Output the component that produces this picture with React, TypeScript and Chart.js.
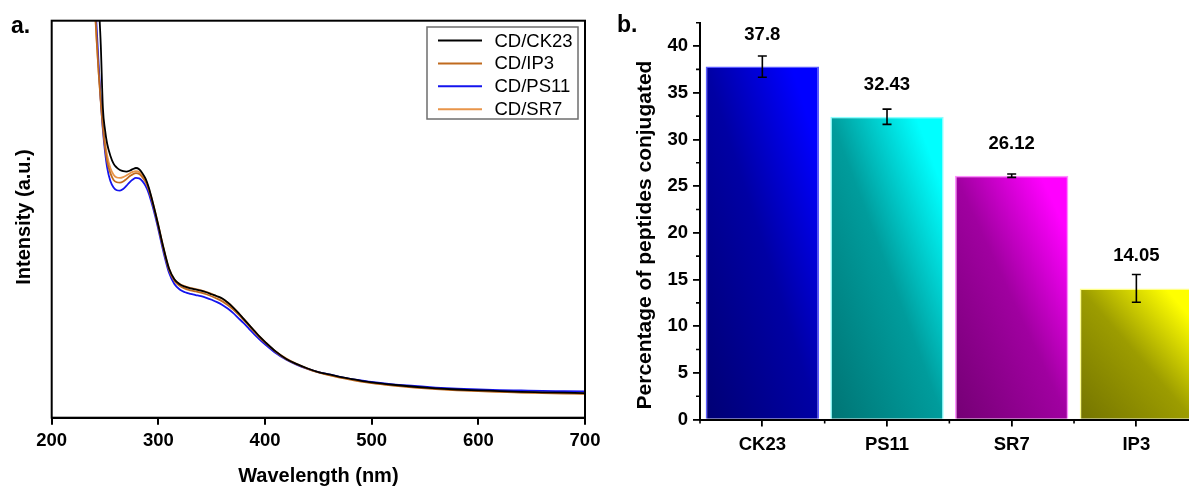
import React, { useEffect, useRef } from 'react';
import { Chart, registerables } from 'chart.js';

Chart.register(...registerables);

const FONT = "'Liberation Sans', Arial, Helvetica, sans-serif";

// ---------- Panel a: absorption spectra ----------
const wavelengths = [236, 238, 240, 242, 244, 246, 248, 250, 252, 255, 258, 261, 264, 267, 270, 273, 276, 279, 282, 285, 288, 291, 294, 297, 300, 305, 310, 315, 320, 325, 330, 335, 340, 345, 350, 355, 360, 365, 370, 375, 380, 385, 390, 395, 400, 410, 420, 430, 440, 450, 460, 470, 480, 490, 500, 520, 540, 560, 580, 600, 620, 640, 660, 680, 700];

const ck23 = [150, 138, 126, 115, 105, 94, 78, 72.5, 69, 66, 64, 63.0, 62.4, 62.1, 62.0, 62.2, 62.6, 62.9, 62.6, 61.6, 60.2, 58.0, 55.0, 51.8, 48.4, 42.6, 37.6, 34.9, 33.6, 33.0, 32.6, 32.3, 32.0, 31.6, 31.1, 30.6, 30.0, 29.0, 27.8, 26.4, 24.9, 23.4, 21.9, 20.4, 19.1, 16.7, 14.8, 13.5, 12.4, 11.5, 10.9, 10.3, 9.8, 9.3, 8.9, 8.3, 7.8, 7.4, 7.1, 6.9, 6.7, 6.5, 6.4, 6.3, 6.2];

const ip3 = [130, 118, 106, 96, 87, 79.5, 73, 68, 64.5, 61.6, 59.9, 59.3, 59.2, 59.5, 60.1, 60.8, 61.3, 61.6, 61.4, 60.6, 59.4, 57.4, 54.6, 51.5, 48.1, 42.2, 37.2, 34.5, 33.2, 32.5, 32.1, 31.8, 31.5, 31.1, 30.6, 30.0, 29.3, 28.4, 27.3, 26.0, 24.6, 23.1, 21.6, 20.2, 18.9, 16.6, 14.7, 13.4, 12.3, 11.4, 10.7, 10.1, 9.6, 9.1, 8.7, 8.1, 7.6, 7.2, 6.9, 6.7, 6.5, 6.3, 6.2, 6.1, 6.0];

const ps11 = [135, 122, 110, 99, 89, 80, 72.5, 67, 63, 59.6, 58.0, 57.3, 57.2, 57.6, 58.4, 59.3, 60.0, 60.4, 60.3, 59.6, 58.4, 56.5, 53.8, 50.8, 47.4, 41.5, 36.5, 33.7, 32.3, 31.6, 31.2, 30.9, 30.6, 30.2, 29.7, 29.1, 28.4, 27.5, 26.4, 25.1, 23.8, 22.4, 21.0, 19.7, 18.5, 16.3, 14.6, 13.3, 12.3, 11.5, 10.9, 10.3, 9.8, 9.4, 9.0, 8.4, 8.0, 7.6, 7.3, 7.1, 6.95, 6.85, 6.75, 6.7, 6.65];

const sr7 = [129, 117, 105.5, 95.5, 87, 80, 74, 69.5, 66, 62.9, 61.2, 60.5, 60.4, 60.6, 61.0, 61.5, 61.9, 62.1, 61.9, 61.0, 59.8, 57.8, 55.0, 51.9, 48.5, 42.6, 37.6, 34.9, 33.7, 33.1, 32.7, 32.4, 32.1, 31.7, 31.2, 30.6, 29.9, 29.0, 27.8, 26.4, 24.9, 23.4, 21.9, 20.4, 19.1, 16.7, 14.9, 13.5, 12.4, 11.5, 10.8, 10.2, 9.7, 9.2, 8.8, 8.2, 7.7, 7.3, 7.0, 6.8, 6.6, 6.4, 6.3, 6.2, 6.1];

const spectraLabels = ['CD/CK23', 'CD/IP3', 'CD/PS11', 'CD/SR7'];
const spectraSeries = [ck23, ip3, ps11, sr7];
const spectraColors = ['#000000', '#c06a1e', '#1414ee', '#e8954a'];
const wavelengthTicks = [200, 300, 400, 500, 600, 700];

// ---------- Panel b: conjugation percentage ----------
const peptides = ['CK23', 'PS11', 'SR7', 'IP3'];
const conjugated = [37.8, 32.43, 26.12, 14.05];
const conjugatedErr = [1.14, 0.82, 0.18, 1.48];
const barDark = ['#000074', '#007474', '#740074', '#747400'];
const barMid = ['#0000a4', '#009c9c', '#a000a0', '#9c9c00'];
const barBright = ['#0000ff', '#00ffff', '#ff00ff', '#ffff00'];
const barEdge = ['#5a5aff', '#8cffff', '#ff8cff', '#ffff8c'];

const framePlugin = {
  id: 'frameA',
  afterDatasetsDraw(chart: any) {
    const { ctx, chartArea: a } = chart;
    ctx.save();
    ctx.strokeStyle = '#000';
    ctx.lineWidth = 2;
    ctx.strokeRect(a.left, a.top, a.right - a.left, a.bottom - a.top);
    ctx.restore();
  },
};

const legendPluginA = {
  id: 'legendA',
  afterDatasetsDraw(chart: any) {
    const { ctx } = chart;
    ctx.save();
    ctx.fillStyle = '#ffffff';
    ctx.fillRect(427, 27, 151, 92);
    ctx.strokeStyle = '#6e6e6e';
    ctx.lineWidth = 1.5;
    ctx.strokeRect(427, 27, 151, 92);
    ctx.font = `18.5px ${FONT}`;
    ctx.textBaseline = 'middle';
    ctx.textAlign = 'left';
    chart.data.datasets.forEach((ds: any, i: number) => {
      const y = 40.5 + i * 22.9;
      ctx.strokeStyle = ds.borderColor;
      ctx.lineWidth = 2;
      ctx.beginPath();
      ctx.moveTo(438, y);
      ctx.lineTo(482, y);
      ctx.stroke();
      ctx.fillStyle = '#000';
      ctx.fillText(ds.label, 494.5, y + 1);
    });
    ctx.restore();
  },
};

const titlesPluginA = {
  id: 'titlesA',
  afterDraw(chart: any) {
    const { ctx } = chart;
    ctx.save();
    ctx.fillStyle = '#000';
    ctx.font = `bold 20px ${FONT}`;
    ctx.textAlign = 'center';
    ctx.textBaseline = 'middle';
    ctx.fillText('Wavelength (nm)', (chart.chartArea.left + chart.chartArea.right) / 2, 476);
    ctx.save();
    ctx.translate(24.5, 217);
    ctx.rotate(-Math.PI / 2);
    ctx.fillText('Intensity (a.u.)', 0, 0);
    ctx.restore();
    ctx.font = `bold 23px ${FONT}`;
    ctx.textAlign = 'left';
    ctx.fillText('a.', 11, 27);
    ctx.restore();
  },
};

function barFill(c: any) {
  const i = c.dataIndex;
  const chart = c.chart;
  const xs = chart.scales && chart.scales.x;
  const ys = chart.scales && chart.scales.y;
  if (i === undefined || !xs || !ys || !chart.chartArea) return barBright[0];
  const step = xs.getPixelForValue(1) - xs.getPixelForValue(0);
  const half = (step * 0.909) / 2;
  const cx = xs.getPixelForValue(i);
  const L = cx - half;
  const R = cx + half;
  const T = ys.getPixelForValue(conjugated[i]);
  const B = ys.getPixelForValue(0);
  const w = R - L;
  const h = B - T;
  if (!isFinite(w) || !isFinite(h) || w <= 0 || h <= 0) return barBright[i];
  const n = Math.hypot(w, h);
  const dx = h / n;
  const dy = -w / n;
  const k = (w * h) / n;
  const mx = (L + R) / 2;
  const my = (T + B) / 2;
  const g = chart.ctx.createLinearGradient(mx - dx * k, my - dy * k, mx + dx * k, my + dy * k);
  g.addColorStop(0, barDark[i]);
  g.addColorStop(0.5, barMid[i]);
  g.addColorStop(0.88, barBright[i]);
  g.addColorStop(1, barBright[i]);
  return g;
}

const errorLabelPlugin = {
  id: 'errorLabels',
  afterDatasetsDraw(chart: any) {
    const { ctx } = chart;
    const ys = chart.scales.y;
    const meta = chart.getDatasetMeta(0);
    ctx.save();
    meta.data.forEach((el: any, i: number) => {
      const v = conjugated[i];
      const e = conjugatedErr[i];
      const top = ys.getPixelForValue(v + e);
      const bot = ys.getPixelForValue(v - e);
      ctx.strokeStyle = '#000';
      ctx.lineWidth = 1.6;
      ctx.beginPath();
      ctx.moveTo(el.x, top);
      ctx.lineTo(el.x, bot);
      ctx.moveTo(el.x - 4.5, top);
      ctx.lineTo(el.x + 4.5, top);
      ctx.moveTo(el.x - 4.5, bot);
      ctx.lineTo(el.x + 4.5, bot);
      ctx.stroke();
      ctx.fillStyle = '#000';
      ctx.font = `bold 18.5px ${FONT}`;
      ctx.textAlign = 'center';
      ctx.textBaseline = 'middle';
      ctx.fillText(String(v), el.x, ys.getPixelForValue(v) - 32);
    });
    ctx.restore();
  },
};

const minorTicksPluginB = {
  id: 'minorTicksB',
  afterDraw(chart: any) {
    const { ctx, chartArea: a } = chart;
    const xs = chart.scales.x;
    const ys = chart.scales.y;
    ctx.save();
    ctx.strokeStyle = '#000';
    ctx.lineWidth = 1.6;
    ctx.beginPath();
    for (let v = 2.5; v <= ys.max + 0.01; v += 5) {
      const y = ys.getPixelForValue(v);
      ctx.moveTo(a.left, y);
      ctx.lineTo(a.left - 4, y);
    }
    const step = xs.getPixelForValue(1) - xs.getPixelForValue(0);
    for (let i = 0; i <= peptides.length; i++) {
      const x = xs.getPixelForValue(0) - step / 2 + i * step;
      ctx.moveTo(x, a.bottom);
      ctx.lineTo(x, a.bottom + 4);
    }
    ctx.stroke();
    ctx.fillStyle = '#000';
    ctx.font = `bold 21px ${FONT}`;
    ctx.textAlign = 'center';
    ctx.textBaseline = 'middle';
    ctx.save();
    ctx.translate(35, 235);
    ctx.rotate(-Math.PI / 2);
    ctx.fillText('Percentage of peptides conjugated', 0, 0);
    ctx.restore();
    ctx.font = `bold 23px ${FONT}`;
    ctx.textAlign = 'left';
    ctx.fillText('b.', 7, 26);
    ctx.restore();
  },
};

function SpectraChart() {
  const ref = useRef<HTMLCanvasElement>(null);
  useEffect(() => {
    const canvas = ref.current as HTMLCanvasElement;
    const chart = new Chart(canvas, {
      type: 'line',
      data: {
        datasets: spectraLabels.map((label, k) => ({
          label,
          data: wavelengths.map((w, i) => ({ x: w, y: spectraSeries[k][i] })),
          borderColor: spectraColors[k],
          backgroundColor: spectraColors[k],
          borderWidth: 1.8,
          pointRadius: 0,
          cubicInterpolationMode: 'monotone',
          fill: false,
        })),
      },
      options: {
        animation: false,
        responsive: false,
        devicePixelRatio: 1,
        layout: { padding: { top: 20.7, right: 35, left: 0, bottom: 0 } },
        plugins: { legend: { display: false }, tooltip: { enabled: false } },
        scales: {
          x: {
            type: 'linear',
            min: 200,
            max: 700,
            afterFit: (s: any) => { s.height = 68.3; },
            afterBuildTicks: (s: any) => { s.ticks = wavelengthTicks.map((v) => ({ value: v })); },
            ticks: { color: '#000', font: { family: FONT, size: 18.5, weight: 'bold' }, padding: 5, maxRotation: 0 },
            grid: { drawOnChartArea: false, color: '#000', lineWidth: 2, tickLength: 7 },
            border: { color: '#000', width: 2 },
          },
          y: {
            type: 'linear',
            min: 0,
            max: 100,
            afterFit: (s: any) => { s.width = 51.7; },
            ticks: { display: false },
            grid: { display: false },
            border: { display: false },
          },
        },
      } as any,
      plugins: [framePlugin, legendPluginA, titlesPluginA],
    });
    return () => chart.destroy();
  }, []);
  return (
    <canvas
      ref={ref}
      width={620}
      height={486}
      style={{ position: 'absolute', left: 0, top: 0, width: 620, height: 486 }}
    />
  );
}

function BarChart() {
  const ref = useRef<HTMLCanvasElement>(null);
  useEffect(() => {
    const canvas = ref.current as HTMLCanvasElement;
    const chart = new Chart(canvas, {
      type: 'bar',
      data: {
        labels: peptides,
        datasets: [
          {
            data: conjugated,
            backgroundColor: barFill as any,
            borderColor: barEdge,
            borderWidth: 1.5,
            categoryPercentage: 1,
            barPercentage: 0.909,
          },
        ],
      },
      options: {
        animation: false,
        responsive: false,
        devicePixelRatio: 1,
        layout: { padding: { top: 22.7, right: 11.3, left: 0, bottom: 0 } },
        plugins: { legend: { display: false }, tooltip: { enabled: false } },
        scales: {
          x: {
            type: 'category',
            offset: true,
            afterFit: (s: any) => { s.height = 66.4; },
            ticks: { color: '#000', font: { family: FONT, size: 18.5, weight: 'bold' }, padding: 7, maxRotation: 0 },
            grid: { offset: false, drawOnChartArea: false, color: '#000', lineWidth: 1.8, tickLength: 7 },
            border: { color: '#000', width: 2 },
          },
          y: {
            type: 'linear',
            min: 0,
            max: 42.5,
            afterFit: (s: any) => { s.width = 90; },
            ticks: { stepSize: 5, includeBounds: false, color: '#000', font: { family: FONT, size: 18.5, weight: 'bold' }, padding: 5 },
            grid: { drawOnChartArea: false, color: '#000', lineWidth: 1.8, tickLength: 7 },
            border: { color: '#000', width: 2 },
          },
        },
      } as any,
      plugins: [errorLabelPlugin, minorTicksPluginB],
    });
    return () => chart.destroy();
  }, []);
  return (
    <canvas
      ref={ref}
      width={600}
      height={486}
      style={{ position: 'absolute', left: 610, top: 0, width: 600, height: 486 }}
    />
  );
}

export default function App() {
  return (
    <div
      style={{
        position: 'fixed',
        left: 0,
        top: 0,
        width: 1189,
        height: 486,
        overflow: 'hidden',
        background: '#ffffff',
      }}
    >
      <SpectraChart />
      <BarChart />
    </div>
  );
}
